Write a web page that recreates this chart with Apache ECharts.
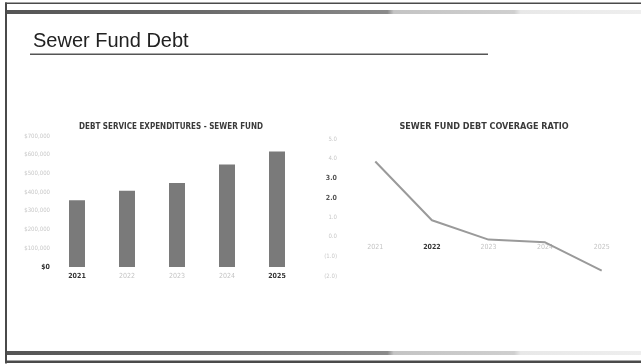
<!DOCTYPE html>
<html>
<head>
<meta charset="utf-8">
<script src="https://cdn.jsdelivr.net/npm/echarts@6/dist/echarts.min.js"></script>
<style>
  html, body { margin: 0; padding: 0; background: #fff; }
  #chart { width: 641px; height: 364px; }
</style>
</head>
<body>
<div id="chart"></div>
<script>
// Fiscal years shown on both charts
const years = ['2021', '2022', '2023', '2024', '2025'];
// Debt service expenditures, sewer fund (dollars)
const debtService = [357000, 407000, 449000, 548000, 617000];
// Sewer fund debt coverage ratio
const coverageRatio = [3.85, 0.85, -0.14, -0.28, -1.73];
// Value-axis tick labels
const dollarTicks = ['$0', '$100,000', '$200,000', '$300,000', '$400,000', '$500,000', '$600,000', '$700,000'];
const ratioTicks = ['(2.0)', '(1.0)', '0.0', '1.0', '2.0', '3.0', '4.0', '5.0'];

const narrow = '"Liberation Sans Narrow", "DejaVu Sans Condensed", "Liberation Sans", sans-serif';
const chart = echarts.init(document.getElementById('chart'));

const strongYearsLeft = ['2021', '2025'];
const strongYearsRight = ['2022'];

// ratio chart plot area; the category labels sit on the 0.0 line
const ratioGrid = { left: 347, top: 139, width: 283, height: 137 };
const ratioMin = -2, ratioMax = 5;
const zeroOffset = -ratioGrid.height * (0 - ratioMin) / (ratioMax - ratioMin);

chart.setOption({
  animation: false,
  backgroundColor: '#ffffff',
  title: [
    {
      text: 'DEBT SERVICE EXPENDITURES - SEWER FUND',
      left: 166, top: 118, textAlign: 'center',
      textStyle: { fontFamily: narrow, fontSize: 8, fontWeight: 'bold', color: '#3a3a3a' }
    },
    {
      text: 'SEWER FUND DEBT COVERAGE RATIO',
      left: 479, top: 117, textAlign: 'center',
      textStyle: { fontFamily: narrow, fontSize: 9, fontWeight: 'bold', color: '#3a3a3a' }
    }
  ],
  grid: [
    { left: 52, top: 136, width: 250, height: 131 },
    ratioGrid
  ],
  xAxis: [
    {
      type: 'category', gridIndex: 0, data: years,
      axisLine: { show: false }, axisTick: { show: false },
      axisLabel: {
        margin: 6, interval: 0,
        formatter: v => strongYearsLeft.includes(v) ? '{s|' + v + '}' : '{w|' + v + '}',
        rich: {
          s: { fontFamily: narrow, fontSize: 7, fontWeight: 'bold', color: '#333' },
          w: { fontFamily: narrow, fontSize: 7, color: '#c4c4c4' }
        }
      }
    },
    {
      type: 'category', gridIndex: 1, data: years,
      position: 'bottom', offset: zeroOffset,
      axisLine: { show: false, onZero: false },
      axisTick: { show: false },
      axisLabel: {
        margin: 7, interval: 0,
        formatter: v => strongYearsRight.includes(v) ? '{s|' + v + '}' : '{w|' + v + '}',
        rich: {
          s: { fontFamily: narrow, fontSize: 7, fontWeight: 'bold', color: '#333' },
          w: { fontFamily: narrow, fontSize: 7, color: '#c4c4c4' }
        }
      }
    }
  ],
  yAxis: [
    {
      type: 'value', gridIndex: 0, min: 0, max: 700000, interval: 100000,
      axisLine: { show: false }, axisTick: { show: false }, splitLine: { show: false },
      axisLabel: {
        margin: 2,
        formatter: (v, i) => i === 0 ? '{s|' + dollarTicks[i] + '}' : '{w|' + dollarTicks[i] + '}',
        rich: {
          s: { fontFamily: narrow, fontSize: 7, fontWeight: 'bold', color: '#333' },
          w: { fontFamily: narrow, fontSize: 6, color: '#c8c8c8' }
        }
      }
    },
    {
      type: 'value', gridIndex: 1, min: ratioMin, max: ratioMax, interval: 1,
      axisLine: { show: false }, axisTick: { show: false }, splitLine: { show: false },
      axisLabel: {
        margin: 10,
        formatter: (v, i) => (i === 4 || i === 5) ? '{s|' + ratioTicks[i] + '}' : '{w|' + ratioTicks[i] + '}',
        rich: {
          s: { fontFamily: narrow, fontSize: 7, fontWeight: 'bold', color: '#555' },
          w: { fontFamily: narrow, fontSize: 6, color: '#c8c8c8' }
        }
      }
    }
  ],
  series: [
    {
      type: 'bar', xAxisIndex: 0, yAxisIndex: 0, data: debtService,
      barWidth: 16,
      itemStyle: { color: '#7a7a7a' }
    },
    {
      type: 'line', xAxisIndex: 1, yAxisIndex: 1, data: coverageRatio,
      symbol: 'none',
      lineStyle: { color: '#9a9a9a', width: 2 }
    }
  ],
  graphic: [
    // slide frame
    { type: 'rect', shape: { x: 5, y: 2.5, width: 636, height: 1.5 }, style: { fill: '#4a4a4a' } },
    { type: 'rect', shape: { x: 5, y: 2.5, width: 2, height: 361 }, style: { fill: '#4a4a4a' } },
    {
      type: 'rect', shape: { x: 7, y: 10, width: 634, height: 4 },
      style: {
        fill: new echarts.graphic.LinearGradient(0, 0, 1, 0, [
          { offset: 0, color: '#555' }, { offset: 0.3, color: '#6a6a6a' },
          { offset: 0.6, color: '#8a8a8a' }, { offset: 0.61, color: '#c4c4c4' },
          { offset: 0.8, color: '#cfcfcf' }, { offset: 0.81, color: '#e8e8e8' },
          { offset: 1, color: '#eeeeee' }
        ])
      }
    },
    {
      type: 'rect', shape: { x: 7, y: 351, width: 634, height: 4 },
      style: {
        fill: new echarts.graphic.LinearGradient(0, 0, 1, 0, [
          { offset: 0, color: '#555' }, { offset: 0.3, color: '#6a6a6a' },
          { offset: 0.6, color: '#8a8a8a' }, { offset: 0.61, color: '#c4c4c4' },
          { offset: 0.8, color: '#cfcfcf' }, { offset: 0.81, color: '#e8e8e8' },
          { offset: 1, color: '#eeeeee' }
        ])
      }
    },
    { type: 'rect', shape: { x: 5, y: 360.5, width: 636, height: 2.5 }, style: { fill: '#4a4a4a' } },
    // slide heading and rule
    {
      type: 'text', left: 33, top: 31,
      style: { text: 'Sewer Fund Debt', font: '20px "Liberation Sans", Arial, sans-serif', fill: '#222' }
    },
    { type: 'rect', shape: { x: 30, y: 53.5, width: 458, height: 1.5 }, style: { fill: '#555' } }
  ]
});
</script>
</body>
</html>
